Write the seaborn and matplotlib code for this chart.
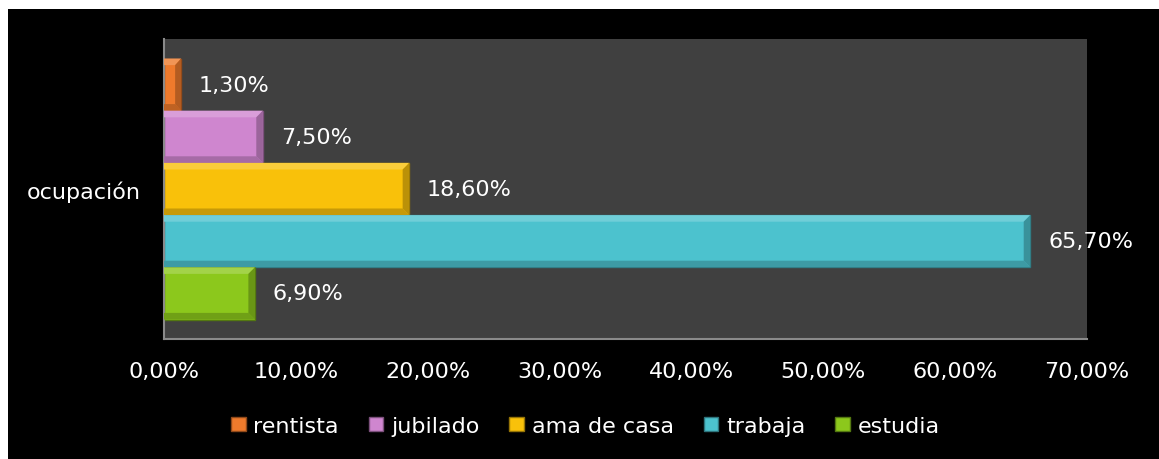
import pandas as pd
import matplotlib
matplotlib.use('Agg')
import matplotlib.pyplot as plt
import seaborn as sns
from matplotlib.patches import Rectangle, Polygon
from matplotlib.colors import to_rgb

# data
group = ['ocupación']
categories = ['rentista', 'jubilado', 'ama de casa', 'trabaja', 'estudia']
values = [1.3, 7.5, 18.6, 65.7, 6.9]
colors = ['#EE7A2C', '#CF86CF', '#F9C10A', '#4CC2CE', '#8CC81C']
x_ticks = [0, 10, 20, 30, 40, 50, 60, 70]

df = pd.DataFrame({
    'grupo': group * len(categories),
    'categoria': categories,
    'valor': values,
})

sns.set_theme(style='white')
plt.rcParams['font.family'] = ['DejaVu Sans']

fig = plt.figure(figsize=(11.59, 4.60), dpi=100)
fig.patch.set_facecolor('white')
# black background panel (white margin top / left like the original)
fig.patches.append(Rectangle((8 / 1159, 0), 1, 1 - 10 / 460, transform=fig.transFigure,
                             facecolor='black', edgecolor='none', zorder=-10))

ax = fig.add_axes([164 / 1159, 1 - 340 / 460, (1087 - 164) / 1159, 300 / 460])
ax.set_facecolor('#404040')

sns.barplot(data=df, x='valor', y='grupo', hue='categoria', hue_order=categories,
            palette=colors, orient='h', width=0.87, ax=ax, saturation=1)

ax.set_xlim(0, 70)
ax.set_ylim(0.5, -0.5)


def darker(c, f):
    r, g, b = to_rgb(c)
    return (r * f, g * f, b * f)


def lighter(c, f):
    r, g, b = to_rgb(c)
    return (r + (1 - r) * f, g + (1 - g) * f, b + (1 - b) * f)


# fake bevel on each bar, built from the bar geometry
bx = 0.5
by = 0.022
for bar, col in zip(ax.patches[:len(categories)], colors):
    x0, y0 = bar.get_x(), bar.get_y()
    w, h = bar.get_width(), bar.get_height()
    x1, y1 = x0 + w, y0 + h
    bw = min(bx, w * 0.35)
    bar.set_edgecolor(darker(col, 0.6))
    bar.set_linewidth(1)
    # y axis inverted: y0 is top edge visually
    top = Polygon([(x0, y0), (x1, y0), (x1 - bw, y0 + by), (x0, y0 + by)],
                  closed=True, facecolor=lighter(col, 0.2), edgecolor='none', zorder=3)
    bottom = Polygon([(x0, y1), (x1, y1), (x1 - bw, y1 - by), (x0, y1 - by)],
                     closed=True, facecolor=darker(col, 0.8), edgecolor='none', zorder=3)
    right = Polygon([(x1, y0), (x1, y1), (x1 - bw, y1 - by), (x1 - bw, y0 + by)],
                    closed=True, facecolor=darker(col, 0.75), edgecolor='none', zorder=3)
    for p in (top, bottom, right):
        ax.add_patch(p)
    ax.text(x1 + 1.35, y0 + h / 2, f'{w:.2f}%'.replace('.', ','), color='white',
            fontsize=16, va='center', ha='left', clip_on=False, zorder=5)

ax.set_xticks(x_ticks)
ax.set_xticklabels([f'{t:.2f}%'.replace('.', ',') for t in x_ticks])
ax.tick_params(axis='x', colors='white', labelsize=16, length=0, pad=16)
ax.tick_params(axis='y', colors='white', labelsize=16, length=0, pad=17)
ax.set_xlabel('')
ax.set_ylabel('')

for s in ['top', 'right']:
    ax.spines[s].set_visible(False)
for s in ['left', 'bottom']:
    ax.spines[s].set_color('#8a8a8a')
    ax.spines[s].set_linewidth(1.5)

sns.move_legend(ax, 'center', bbox_to_anchor=(0.505, 0.072), bbox_transform=fig.transFigure,
                ncol=5, frameon=False, title=None, fontsize=16, handlelength=0.65,
                handleheight=0.65, handletextpad=0.35, columnspacing=1.35, labelcolor='white')
for h, col in zip(ax.get_legend().legend_handles, colors):
    h.set_edgecolor(darker(col, 0.6))

fig.savefig('out.png', dpi=100, facecolor=fig.get_facecolor())
